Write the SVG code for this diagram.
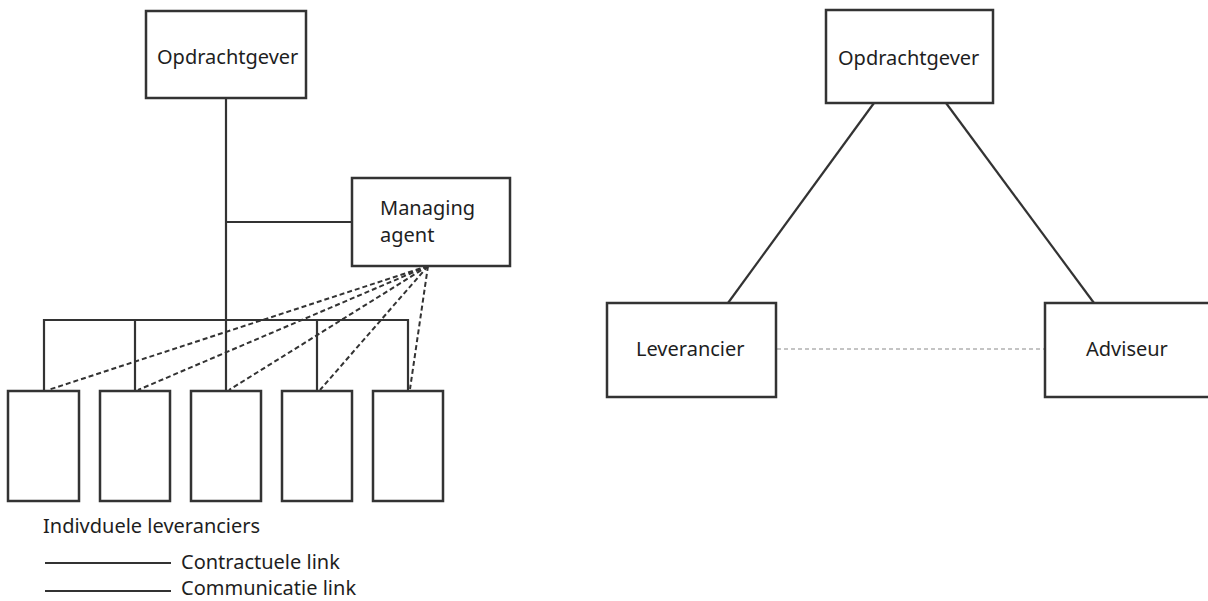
<svg xmlns="http://www.w3.org/2000/svg" width="1208" height="601" viewBox="0 0 1208 601">
  <style>
    .box { fill: #ffffff; stroke: #333333; stroke-width: 2.5; }
    .link { fill: none; stroke: #333333; stroke-width: 2.2; }
    .comm { fill: none; stroke: #333333; stroke-width: 2; stroke-dasharray: 5 3; }
    .comm-thin { fill: none; stroke: #8a8a8a; stroke-width: 1.2; stroke-dasharray: 4 3; }
    .label { font-family: "Noto Sans", "Open Sans", sans-serif; font-size: 20px; fill: #1e1e1e; }
  </style>
  <rect width="1208" height="601" fill="#ffffff"/>

  <!-- connectors -->
  <g id="connectors">
    <!-- left: contract structure -->
    <line class="link" x1="226" y1="98" x2="226" y2="391"/>
    <line class="link" x1="226" y1="222" x2="352" y2="222"/>
    <polyline class="link" points="44,391 44,320 408,320 408,391"/>
    <line class="link" x1="135" y1="320" x2="135" y2="391"/>
    <line class="link" x1="317" y1="320" x2="317" y2="391"/>
    <!-- left: communication from managing agent -->
    <line class="comm" x1="428" y1="266" x2="48" y2="390"/>
    <line class="comm" x1="428" y1="266" x2="138" y2="390"/>
    <line class="comm" x1="428" y1="266" x2="229" y2="390"/>
    <line class="comm" x1="428" y1="266" x2="320" y2="390"/>
    <line class="comm" x1="428" y1="266" x2="410" y2="389"/>
    <!-- right triangle -->
    <line class="link" x1="874" y1="103" x2="728" y2="303"/>
    <line class="link" x1="946" y1="103" x2="1094" y2="303"/>
    <line class="comm-thin" x1="777" y1="349" x2="1045" y2="349"/>
  </g>

  <!-- left diagram nodes -->
  <g id="opdrachtgever-left">
    <rect class="box" x="146" y="11" width="160" height="87"/>
    <text class="label" x="157" y="64">Opdrachtgever</text>
  </g>
  <g id="managing-agent">
    <rect class="box" x="352" y="178" width="158" height="88"/>
    <text class="label" x="380" y="215">Managing</text>
    <text class="label" x="380" y="242">agent</text>
  </g>
  <g id="leverancier-1"><rect class="box" x="8" y="391" width="71" height="110"/></g>
  <g id="leverancier-2"><rect class="box" x="100" y="391" width="70" height="110"/></g>
  <g id="leverancier-3"><rect class="box" x="191" y="391" width="70" height="110"/></g>
  <g id="leverancier-4"><rect class="box" x="282" y="391" width="70" height="110"/></g>
  <g id="leverancier-5"><rect class="box" x="373" y="391" width="70" height="110"/></g>

  <!-- legend -->
  <g id="legend">
    <text class="label" x="43" y="533">Indivduele leveranciers</text>
    <line class="link" x1="45" y1="563" x2="171" y2="563"/>
    <text class="label" x="181" y="569">Contractuele link</text>
    <line class="link" x1="45" y1="591" x2="171" y2="591"/>
    <text class="label" x="181" y="595">Communicatie link</text>
  </g>

  <!-- right diagram nodes -->
  <g id="opdrachtgever-right">
    <rect class="box" x="826" y="10" width="167" height="93"/>
    <text class="label" x="838" y="65">Opdrachtgever</text>
  </g>
  <g id="leverancier">
    <rect class="box" x="607" y="303" width="169" height="94"/>
    <text class="label" x="636" y="356">Leverancier</text>
  </g>
  <g id="adviseur">
    <rect class="box" x="1045" y="303" width="170" height="94"/>
    <text class="label" x="1086" y="356">Adviseur</text>
  </g>
</svg>
